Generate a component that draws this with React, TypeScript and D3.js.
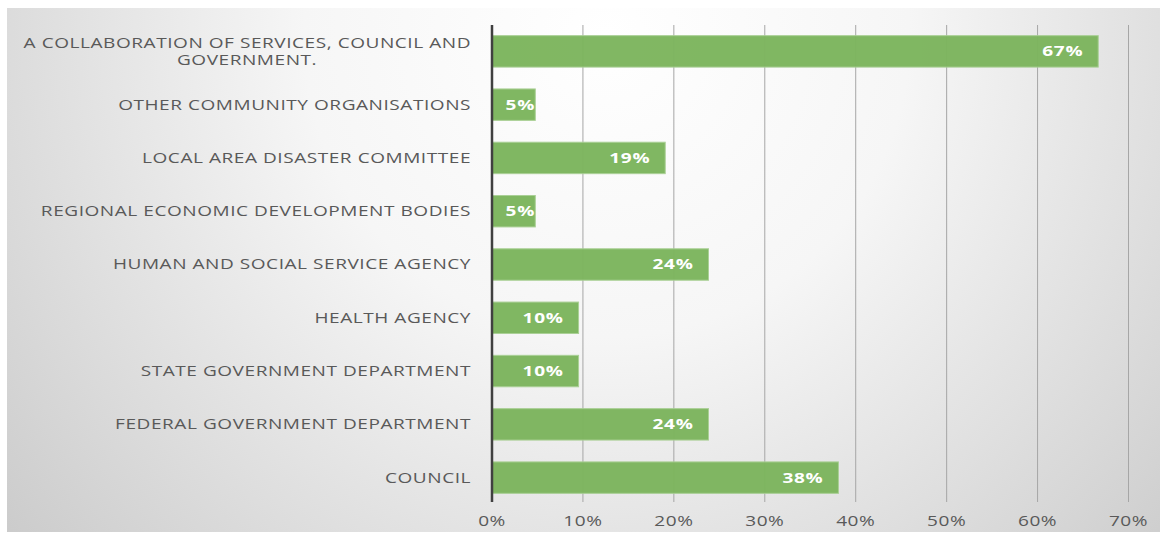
import React from "react";
import * as d3 from "d3";

const categories = [
  "A COLLABORATION OF SERVICES, COUNCIL AND|GOVERNMENT.",
  "OTHER COMMUNITY ORGANISATIONS",
  "LOCAL AREA DISASTER COMMITTEE",
  "REGIONAL ECONOMIC DEVELOPMENT BODIES",
  "HUMAN AND SOCIAL SERVICE AGENCY",
  "HEALTH AGENCY",
  "STATE GOVERNMENT DEPARTMENT",
  "FEDERAL GOVERNMENT DEPARTMENT",
  "COUNCIL",
];
const values = [0.6667, 0.0476, 0.1905, 0.0476, 0.2381, 0.0952, 0.0952, 0.2381, 0.381];
const ticks = [0, 0.1, 0.2, 0.3, 0.4, 0.5, 0.6, 0.7];

const SX = 1.36;

export default function App() {
  const W = 1165, H = 535;
  const x = d3.scaleLinear().domain([0, 0.7]).range([492, 1128.5]);
  const y = d3.scaleBand<string>().domain(categories).range([25, 504]).paddingInner(0.41).paddingOuter(0.2);
  const fmt = d3.format(".0%");
  const font = "'Open Sans', 'DejaVu Sans', sans-serif";
  return (
    <svg width={W} height={H} style={{ position: "absolute", left: 0, top: 0 }}>
      <defs>
        <radialGradient id="bg" cx="0.52" cy="0.05" r="0.75" gradientTransform="translate(0.52 0.05) scale(1 2.2) translate(-0.52 -0.05)">
          <stop offset="0" stopColor="#ffffff" />
          <stop offset="0.35" stopColor="#f6f6f6" />
          <stop offset="1" stopColor="#c4c4c4" />
        </radialGradient>
        {categories.map((c, i) => (
          <clipPath key={c} id={`clip${i}`}>
            <rect x={x(0)} y={y(c)} width={x(values[i]) - x(0)} height={y.bandwidth()} />
          </clipPath>
        ))}
      </defs>
      <rect x={0} y={0} width={W} height={H} fill="#fff" />
      <rect x={7} y={8} width={1153} height={524} fill="url(#bg)" />
      {ticks.slice(1).map((t) => (
        <line key={t} x1={x(t)} x2={x(t)} y1={25} y2={502} stroke="#a6a6a6" strokeWidth={1} />
      ))}
      {categories.map((c, i) => {
        const yc = (y(c) as number) + y.bandwidth() / 2;
        const lines = c.split("|");
        const label = fmt(values[i]);
        const w = label.length * 13.5;
        const lx = Math.max(x(values[i]) - 15, x(0) + 16 + w);
        return (
          <g key={c}>
            <rect x={x(0)} y={y(c)} width={x(values[i]) - x(0)} height={y.bandwidth()} fill="#7db55e" stroke="#a8cf93" strokeWidth={1} opacity={0.97} />
            <g clipPath={`url(#clip${i})`}>
              <g transform={`translate(${lx},${yc}) scale(${SX},1)`}>
                <text x={0} y={0} dy="0.35em" textAnchor="end" fill="#fff" fontWeight="bold" fontSize={14} fontFamily={font} letterSpacing={0.5}>
                  {label}
                </text>
              </g>
            </g>
            <g transform={`translate(471,${yc}) scale(${SX},1)`}>
              {lines.map((line, j) => (
                <text key={j} x={j > 0 ? -224 / SX : 0} y={(j - (lines.length - 1) / 2) * 17} dy="0.35em" textAnchor={j > 0 ? "middle" : "end"} fill="#595959" fontSize={14} fontFamily={font} letterSpacing={0.4}>
                  {line}
                </text>
              ))}
            </g>
          </g>
        );
      })}
      <line x1={x(0)} x2={x(0)} y1={25} y2={502} stroke="#404040" strokeWidth={2.5} />
      {ticks.map((t) => (
        <g key={t} transform={`translate(${x(t)},521) scale(${SX},1)`}>
          <text x={0} y={0} textAnchor="middle" dy="0.35em" fill="#595959" fontSize={14} fontFamily={font} letterSpacing={0.4}>
            {fmt(t)}
          </text>
        </g>
      ))}
    </svg>
  );
}
